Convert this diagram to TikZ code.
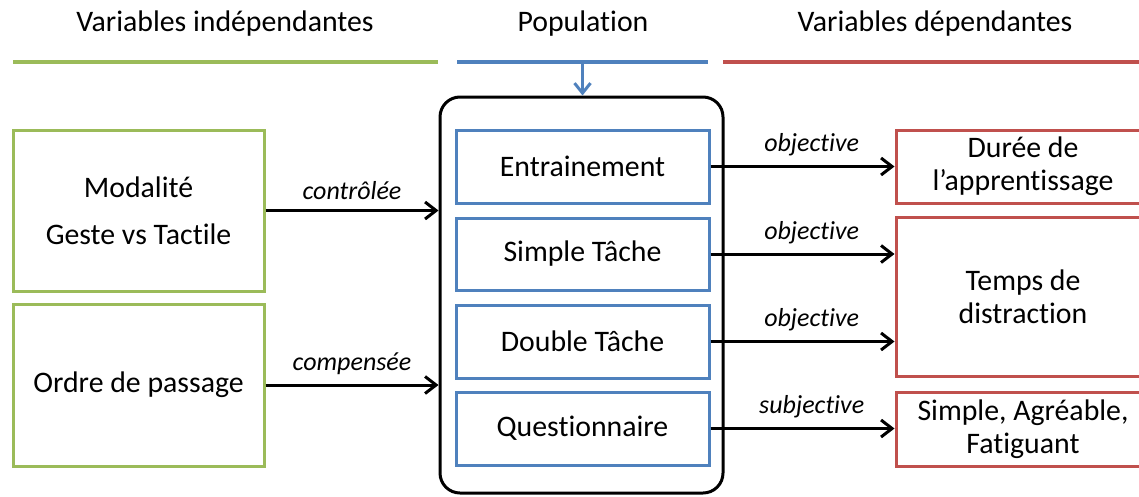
\documentclass[tikz,border=0pt]{standalone}
\usepackage{fontspec}
\setmainfont{Carlito}[RawFeature=-liga]
\usetikzlibrary{arrows.meta,calc}
\definecolor{ivgreen}{HTML}{9BBB59}
\definecolor{popblue}{HTML}{4F81BD}
\definecolor{dvred}{HTML}{C0504D}
\begin{document}
\begin{tikzpicture}[x=1pt,y=-1pt,
  txt/.style={font=\fontsize{29.8}{33}\selectfont, align=center, inner sep=0pt},
  lbl/.style={font=\fontsize{26}{30}\selectfont\itshape, inner sep=0pt, above=9pt},
  ivbox/.style={txt, draw=ivgreen, line width=3pt, minimum width=251pt},
  taskbox/.style={txt, draw=popblue, line width=3pt, minimum width=253pt},
  dvbox/.style={txt, draw=dvred, line width=3pt, minimum width=254pt},
  hline/.style={line width=4pt},
  flow/.style={line width=3pt, -{Straight Barb[length=11pt,width=17pt]}},
]
\clip (0,0) rectangle (1139,496);

% column headings and their rules
\node[txt] (hiv)  at (225,24) {Variables indépendantes};
\node[txt] (hpop) at (583,24) {Population};
\node[txt] (hdv)  at (935,24) {Variables dépendantes};
\draw[hline, ivgreen] (13,62) -- (438,62);
\draw[hline, popblue] (457,62) coordinate (popL) -- (708,62) coordinate (popR);
\draw[hline, dvred] (723,62) -- (1150,62);
\coordinate (popM) at ($(popL)!0.5!(popR)$);

% population frame
\node[draw, line width=3pt, rounded corners=20pt, minimum width=283pt, minimum height=396pt] (pop) at (581.5,295) {};
\draw[line width=3pt, popblue, -{Straight Barb[length=10pt,width=16pt]}] (popM) -- (popM |- pop.north);

% tasks
\node[taskbox, minimum height=73pt] (ent) at (582.5,166.5) {Entrainement};
\node[taskbox, minimum height=72pt] (st)  at (582.5,254)   {Simple Tâche};
\node[taskbox, minimum height=73pt] (dt)  at (582.5,341.5) {Double Tâche};
\node[taskbox, minimum height=73pt] (q)   at (582.5,428.5) {Questionnaire};

% independent variables
\node[ivbox, minimum height=161pt] (mod) at (138.5,210.5) {Modalité\\[14pt]Geste vs Tactile};
\node[ivbox, minimum height=162pt] (ord) at (138.5,385)   {Ordre de passage};

% dependent variables
\node[dvbox, minimum height=73pt]  (dur) at (1023,166.5) {Durée de\\l’apprentissage};
\node[dvbox, minimum height=159pt] (tmp) at (1023,296.5) {Temps de\\distraction};
\node[dvbox, minimum height=74pt]  (sat) at (1023,429)   {Simple, Agréable,\\Fatiguant};

% connectors
\draw[flow] (mod.east) -- node[lbl] {contrôlée} (mod.east -| pop.west);
\draw[flow] (ord.east) -- node[lbl] {compensée} (ord.east -| pop.west);
\draw[flow] (ent.east) -- node[lbl, pos=0.55] {objective} (ent.east -| dur.west);
\draw[flow] (st.east)  -- node[lbl, pos=0.55] {objective} (st.east -| tmp.west);
\draw[flow] (dt.east)  -- node[lbl, pos=0.55] {objective} (dt.east -| tmp.west);
\draw[flow] (q.east)   -- node[lbl, pos=0.55] {subjective} (q.east -| sat.west);
\end{tikzpicture}
\end{document}
